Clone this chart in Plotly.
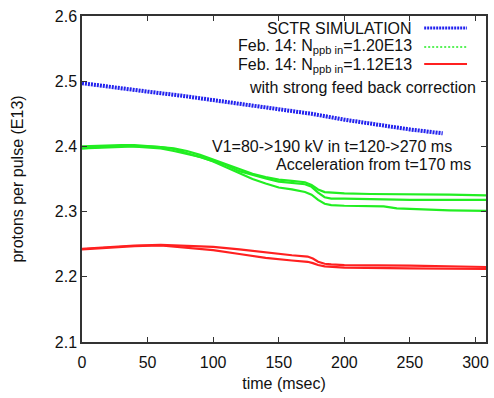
import plotly.graph_objects as go

# ---- data ----
t_sim = [0, 25, 50, 75, 100, 125, 150, 175, 200, 225, 250, 275]
sctr_sim = [2.497, 2.490, 2.484, 2.478, 2.471, 2.465, 2.458, 2.450, 2.441, 2.433, 2.426, 2.420]

t_green = [0, 10, 20, 30, 40, 50, 60, 70, 80, 90, 100, 110, 120, 130, 140, 150, 160, 170,
           175, 180, 185, 190, 200, 220, 230, 240, 250, 280, 308]
green_1 = [2.400, 2.401, 2.402, 2.402, 2.402, 2.401, 2.399, 2.397, 2.393, 2.387, 2.380, 2.372,
           2.365, 2.358, 2.353, 2.349, 2.347, 2.345, 2.341, 2.334, 2.330, 2.329, 2.328, 2.327,
           2.327, 2.327, 2.327, 2.326, 2.325]
green_2 = [2.397, 2.398, 2.399, 2.400, 2.400, 2.400, 2.399, 2.396, 2.390, 2.384, 2.378, 2.371,
           2.362, 2.356, 2.351, 2.346, 2.344, 2.342, 2.338, 2.329, 2.322, 2.320, 2.320, 2.319,
           2.319, 2.319, 2.318, 2.318, 2.318]
green_3 = [2.397, 2.399, 2.400, 2.401, 2.400, 2.399, 2.397, 2.393, 2.388, 2.384, 2.377, 2.368,
           2.359, 2.350, 2.343, 2.337, 2.334, 2.330, 2.326, 2.318, 2.312, 2.310, 2.309, 2.309,
           2.308, 2.305, 2.304, 2.302, 2.301]

t_red = [0, 20, 40, 60, 80, 100, 120, 140, 160, 172, 176, 180, 185, 190, 200, 250, 308]
red_1 = [2.243, 2.246, 2.248, 2.249, 2.248, 2.246, 2.242, 2.237, 2.233, 2.231, 2.228, 2.223,
         2.220, 2.219, 2.218, 2.217, 2.215]
red_2 = [2.242, 2.245, 2.247, 2.248, 2.245, 2.241, 2.235, 2.229, 2.225, 2.223, 2.221, 2.218,
         2.216, 2.215, 2.214, 2.213, 2.212]

x_ticks = [0, 50, 100, 150, 200, 250, 300]
y_ticks = [2.1, 2.2, 2.3, 2.4, 2.5, 2.6]

legend_labels = ["SCTR SIMULATION",
                 "Feb. 14: N<sub>ppb in</sub>=1.20E13",
                 "Feb. 14: N<sub>ppb in</sub>=1.12E13"]
legend_colors = ["#2222ee", "#22ee22", "#ff2020"]
notes = ["with strong feed back correction",
         "V1=80->190 kV in t=120->270 ms",
         "Acceleration from t=170 ms"]

FONT = "Liberation Sans, Arial, sans-serif"
BLUE, GREEN, RED = legend_colors

fig = go.Figure()
for y in (green_1, green_2, green_3):
    fig.add_trace(go.Scatter(x=t_green, y=y, mode="lines",
                             line=dict(color=GREEN, width=2.2), showlegend=False))
for y in (red_1, red_2):
    fig.add_trace(go.Scatter(x=t_red, y=y, mode="lines",
                             line=dict(color=RED, width=2.2), showlegend=False))
fig.add_trace(go.Scatter(x=t_sim, y=sctr_sim, mode="lines",
                         line=dict(color=BLUE, width=4, dash="2px,1px"), showlegend=False))

# custom legend (text on the left, sample on the right)
text_y = [0.963, 0.905, 0.848]
line_y = [0.963, 0.905, 0.853]
sample_style = [dict(color=BLUE, width=3, dash="2px,1px"),
                dict(color=GREEN, width=1.5, dash="2px,2px"),
                dict(color=RED, width=2)]
for lab, ty, ly, st in zip(legend_labels, text_y, line_y, sample_style):
    fig.add_annotation(xref="paper", yref="paper", x=0.821, y=ty, text=lab,
                       showarrow=False, xanchor="right", yanchor="middle",
                       font=dict(family=FONT, size=16, color="#111"))
    fig.add_shape(type="line", xref="paper", yref="paper", x0=0.847, x1=0.953,
                  y0=ly, y1=ly, line=st)

note_pos = [(0.980, 0.782), (0.922, 0.601), (0.968, 0.546)]
for txt, (xx, yy) in zip(notes, note_pos):
    fig.add_annotation(xref="paper", yref="paper", x=xx, y=yy, text=txt,
                       showarrow=False, xanchor="right", yanchor="middle",
                       font=dict(family=FONT, size=16, color="#111"))

axis_common = dict(showline=True, linecolor="#333", linewidth=1.5, mirror="ticks",
                   ticks="inside", ticklen=5, tickcolor="#333", showgrid=False,
                   zeroline=False, tickfont=dict(family=FONT, size=16, color="#111"))
fig.update_xaxes(range=[0, 308], tickvals=x_ticks, ticktext=[str(v) for v in x_ticks],
                 ticklabelstandoff=5,
                 title=dict(text="time (msec)", font=dict(family=FONT, size=16, color="#111"),
                            standoff=8), **axis_common)
fig.update_yaxes(range=[2.1, 2.6], tickvals=y_ticks, ticktext=[f"{v:.1f}" for v in y_ticks],
                 title=dict(text="protons per pulse (E13)", font=dict(family=FONT, size=16, color="#111"),
                            standoff=27), **axis_common)

fig.update_layout(width=494, height=398, margin=dict(l=82, r=5, t=16, b=56),
                  plot_bgcolor="white", paper_bgcolor="white", showlegend=False)
fig.write_html("out.html")
